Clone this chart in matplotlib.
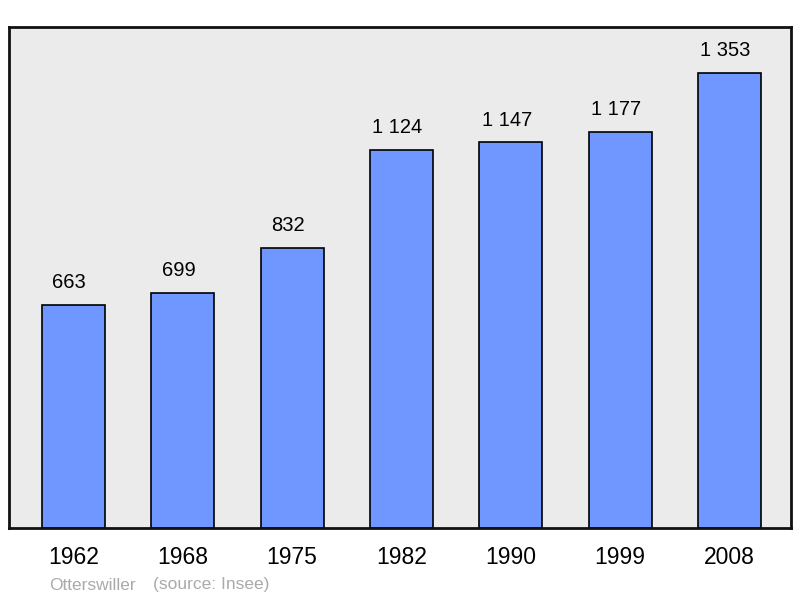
import matplotlib.pyplot as plt

# Population data (Otterswiller)
years = ['1962', '1968', '1975', '1982', '1990', '1999', '2008']
population = [663, 699, 832, 1124, 1147, 1177, 1353]
value_labels = ['663', '699', '832', '1 124', '1 147', '1 177', '1 353']

plt.rcParams['font.family'] = ['Liberation Sans', 'DejaVu Sans']

fig = plt.figure(figsize=(8, 5.98), dpi=100)
ax = fig.add_axes([0.01125, 0.1171, 0.9775, 0.8378])
ax.set_facecolor('#ebebeb')

x = list(range(len(years)))
bars = ax.bar(x, population, width=0.576, color='#7097ff', edgecolor='black',
              linewidth=1.2, zorder=2)

for xi, val, lab in zip(x, population, value_labels):
    ax.annotate(lab, (xi, val), xytext=(-3, 16), textcoords='offset points',
                ha='center', va='center', fontsize=14.5, color='black')

ax.set_xlim(-0.59, 6.563)
ax.set_ylim(0, 1490)
ax.set_yticks([])
ax.set_xticks(x)
ax.set_xticklabels(years, fontsize=16.5)
ax.tick_params(axis='x', length=0, pad=13)

for s in ax.spines.values():
    s.set_linewidth(2)
    s.set_color('#111111')

fig.text(49 / 800, 1 - 585 / 598, 'Otterswiller', fontsize=12.5, color='#aaaaaa',
         ha='left', va='center')
fig.text(153 / 800, 1 - 585 / 598, '(source: Insee)', fontsize=12.5, color='#aaaaaa',
         ha='left', va='center')

fig.savefig('out.png', dpi=100, facecolor='white')
